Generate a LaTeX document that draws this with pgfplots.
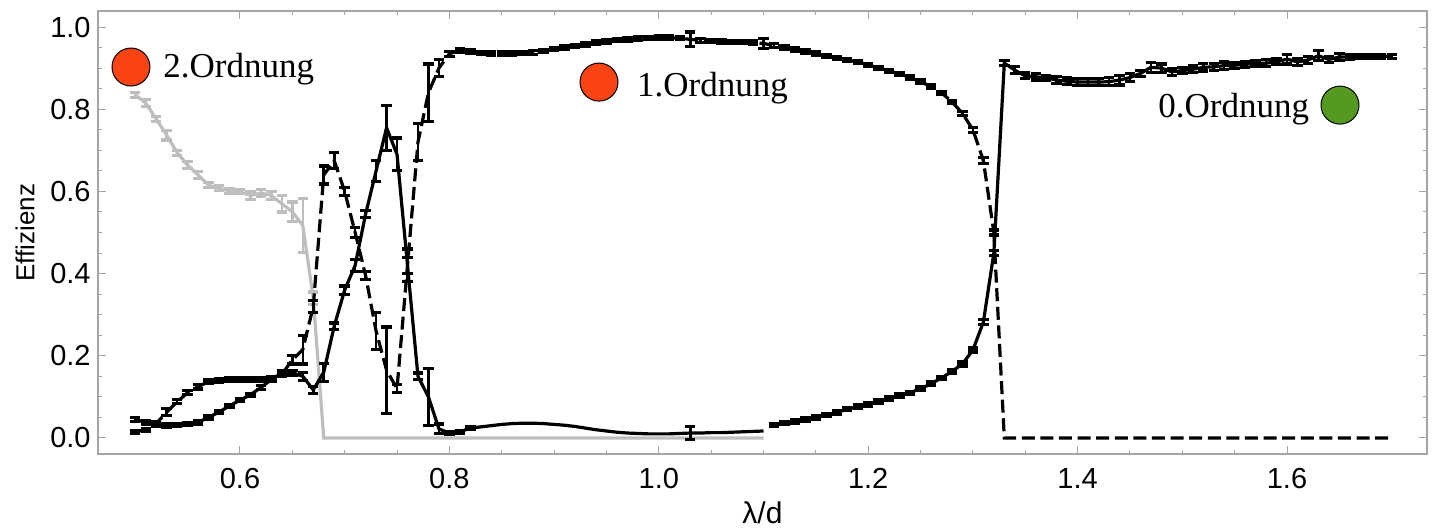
\documentclass[border=0pt]{standalone}
\usepackage{fontspec}
\setmainfont{Liberation Sans}
\newfontfamily\annfont{Liberation Serif}
\usepackage{pgfplots}
\pgfplotsset{compat=1.18}
\usepackage{pgfplotstable}

\definecolor{ordred}{RGB}{250,68,20}
\definecolor{ordgreen}{RGB}{84,154,32}
\definecolor{grayline}{RGB}{190,190,190}
\definecolor{framegray}{RGB}{165,165,165}

% 2. Ordnung (grau)
\pgfplotstableread{
x y e
0.50 0.835 0.006
0.51 0.815 0.008
0.52 0.776 0.006
0.53 0.737 0.012
0.54 0.694 0.006
0.55 0.664 0.008
0.56 0.640 0.008
0.57 0.615 0.006
0.58 0.608 0.006
0.59 0.601 0.006
0.60 0.599 0.005
0.61 0.590 0.010
0.62 0.596 0.008
0.63 0.590 0.010
0.64 0.570 0.020
0.65 0.550 0.024
0.66 0.517 0.066
0.67 0.340 0.015
}\grayA

% 1. Ordnung (gestrichelt)
\pgfplotstableread{
x y e
0.50 0.015 0.004
0.51 0.020 0.004
0.52 0.035 0.005
0.53 0.063 0.008
0.54 0.088 0.005
0.55 0.110 0.005
0.56 0.125 0.006
0.57 0.137 0.004
0.58 0.140 0.004
0.59 0.142 0.004
0.60 0.142 0.004
0.61 0.142 0.004
0.62 0.142 0.004
0.63 0.145 0.004
0.64 0.155 0.005
0.65 0.190 0.010
0.66 0.215 0.035
0.67 0.320 0.015
0.68 0.640 0.022
0.69 0.675 0.020
0.70 0.600 0.010
0.71 0.500 0.012
0.72 0.395 0.010
0.73 0.260 0.045
0.74 0.165 0.105
0.75 0.120 0.010
0.76 0.420 0.020
0.77 0.720 0.045
0.78 0.840 0.070
0.79 0.900 0.020
0.80 0.935 0.006
0.81 0.943 0.004
0.82 0.940 0.004
0.83 0.937 0.004
0.84 0.935 0.004
0.85 0.935 0.004
0.86 0.935 0.004
0.87 0.937 0.004
0.88 0.938 0.004
0.89 0.942 0.004
0.90 0.946 0.004
0.91 0.950 0.004
0.92 0.954 0.004
0.93 0.958 0.004
0.94 0.962 0.004
0.95 0.965 0.004
0.96 0.968 0.004
0.97 0.970 0.004
0.98 0.972 0.004
0.99 0.973 0.004
1.00 0.974 0.004
1.01 0.974 0.004
1.02 0.973 0.004
1.03 0.970 0.018
1.04 0.968 0.005
1.05 0.966 0.004
1.06 0.965 0.004
1.07 0.964 0.004
1.08 0.963 0.004
1.09 0.962 0.004
1.10 0.960 0.012
1.11 0.955 0.004
1.12 0.950 0.004
1.13 0.945 0.004
1.14 0.940 0.004
1.15 0.935 0.004
1.16 0.930 0.004
1.17 0.925 0.004
1.18 0.920 0.004
1.19 0.915 0.004
1.20 0.908 0.004
1.21 0.900 0.004
1.22 0.893 0.004
1.23 0.886 0.004
1.24 0.877 0.004
1.25 0.867 0.004
1.26 0.855 0.004
1.27 0.840 0.004
1.28 0.818 0.004
1.29 0.790 0.005
1.30 0.750 0.006
1.31 0.675 0.008
1.32 0.500 0.006
}\dashA

% 0. Ordnung (durchgezogen)
\pgfplotstableread{
x y e
0.50 0.045 0.005
0.51 0.038 0.004
0.52 0.032 0.004
0.53 0.031 0.005
0.54 0.032 0.004
0.55 0.034 0.004
0.56 0.038 0.004
0.57 0.050 0.004
0.58 0.063 0.004
0.59 0.078 0.004
0.60 0.092 0.004
0.61 0.105 0.004
0.62 0.123 0.005
0.63 0.142 0.005
0.64 0.158 0.006
0.65 0.159 0.006
0.66 0.150 0.010
0.67 0.117 0.008
0.68 0.160 0.022
0.69 0.272 0.008
0.70 0.360 0.010
0.71 0.420 0.015
0.72 0.545 0.008
0.73 0.650 0.025
0.74 0.755 0.055
0.75 0.690 0.040
0.76 0.420 0.040
0.77 0.150 0.008
0.78 0.100 0.070
0.79 0.022 0.012
0.80 0.012 0.004
0.81 0.015 0.004
0.82 0.024 0.004
}\solA

\pgfplotstableread{
x y
0.82 0.024
0.83 0.027
0.84 0.030
0.85 0.033
0.86 0.035
0.87 0.036
0.88 0.036
0.89 0.035
0.90 0.033
0.91 0.031
0.92 0.028
0.93 0.024
0.94 0.020
0.95 0.017
0.96 0.014
0.97 0.012
0.98 0.011
0.99 0.010
1.00 0.010
1.01 0.010
1.02 0.011
1.03 0.012
1.04 0.012
1.05 0.013
1.06 0.013
1.07 0.014
1.08 0.015
1.09 0.016
1.10 0.017
}\solB

\pgfplotstableread{
x y e
1.11 0.032 0.004
1.12 0.036 0.004
1.13 0.040 0.004
1.14 0.045 0.004
1.15 0.050 0.004
1.16 0.056 0.004
1.17 0.062 0.004
1.18 0.070 0.004
1.19 0.076 0.004
1.20 0.082 0.004
1.21 0.089 0.004
1.22 0.096 0.004
1.23 0.103 0.004
1.24 0.110 0.004
1.25 0.120 0.004
1.26 0.132 0.004
1.27 0.146 0.004
1.28 0.162 0.004
1.29 0.180 0.005
1.30 0.214 0.005
1.31 0.282 0.006
1.32 0.450 0.006
1.33 0.912 0.006
1.34 0.895 0.008
1.35 0.881 0.007
1.36 0.879 0.008
1.37 0.876 0.007
1.38 0.871 0.008
1.39 0.868 0.008
1.40 0.866 0.008
1.41 0.866 0.008
1.42 0.866 0.008
1.43 0.867 0.010
1.44 0.871 0.012
1.45 0.877 0.010
1.46 0.887 0.008
1.47 0.902 0.012
1.48 0.900 0.010
1.49 0.891 0.008
1.50 0.894 0.008
1.51 0.897 0.008
1.52 0.902 0.009
1.53 0.903 0.008
1.54 0.906 0.009
1.55 0.907 0.007
1.56 0.909 0.008
1.57 0.912 0.007
1.58 0.912 0.008
1.59 0.915 0.007
1.60 0.922 0.012
1.61 0.915 0.008
1.62 0.920 0.008
1.63 0.930 0.012
1.64 0.921 0.008
1.65 0.927 0.009
1.66 0.927 0.006
1.67 0.928 0.005
1.68 0.929 0.005
1.69 0.929 0.005
1.70 0.929 0.005
}\solC

\pgfplotsset{
  eb/.style={error bars/.cd, y dir=both, y explicit,
    error bar style={solid, line width=1.3pt},
    error mark options={solid, rotate=90, mark size=2.6pt, line width=1.6pt}},
}

\begin{document}
\begin{tikzpicture}
\begin{axis}[
  scale only axis,
  width=664.5pt, height=221.5pt,
  xmin=0.4644, xmax=1.7337,
  ymin=-0.039, ymax=1.039,
  xtick={0.6,0.8,1.0,1.2,1.4,1.6},
  ytick={0,0.2,0.4,0.6,0.8,1.0},
  minor x tick num=3, minor y tick num=3,
  major tick length=4pt, minor tick length=2pt,
  tick style={framegray, line width=0.5pt},
  axis line style={framegray, line width=0.6pt},
  tick label style={font=\fontsize{14.5}{17}\selectfont, inner sep=0pt},
  xticklabel style={yshift=-7pt},
  yticklabel style={xshift=-3.5pt},
  /pgf/number format/.cd, fixed, fixed zerofill, precision=1, assume math mode=true,
  /pgfplots/.cd,
  xlabel={λ/d}, ylabel={Effizienz},
  every axis x label/.style={at={(axis description cs:0.5,-0.1332)}, anchor=center,
    font=\fontsize{15}{17}\selectfont},
  every axis y label/.style={at={(axis description cs:-0.0549,0.5)}, rotate=90, anchor=center,
    font=\fontsize{13}{15}\selectfont},
]
% 2. Ordnung
\addplot[grayline, line width=1.6pt, no markers, eb] table[x=x, y=y, y error=e] {\grayA};
\addplot[grayline, line width=1.6pt, no markers] coordinates {(0.67,0.34) (0.68,0) (1.10,0)};
% 1. Ordnung
\addplot[black, line width=1.6pt, dash pattern=on 6.5pt off 2.8pt, no markers, eb] table[x=x, y=y, y error=e] {\dashA};
\addplot[black, line width=1.6pt, dash pattern=on 6.5pt off 2.8pt, no markers] coordinates {(1.32,0.5) (1.33,0) (1.70,0)};
% 0. Ordnung
\addplot[black, line width=1.6pt, no markers, eb] table[x=x, y=y, y error=e] {\solA};
\addplot[black, line width=1.6pt, no markers] table[x=x, y=y] {\solB};
\addplot[black, line width=1.6pt, no markers, eb] coordinates {(1.03,0.012) +- (0,0.016)};
\addplot[black, line width=1.6pt, no markers, eb] table[x=x, y=y, y error=e] {\solC};

% Beschriftungen
\node[circle, draw=black, line width=0.5pt, fill=ordred, minimum size=19pt, inner sep=0pt] at (axis cs:0.4959,0.9027) {};
\node[anchor=base west, inner sep=0pt, font=\annfont\fontsize{17.5}{20}\selectfont] at (axis cs:0.5265,0.878) {2.Ordnung};
\node[circle, draw=black, line width=0.5pt, fill=ordred, minimum size=19pt, inner sep=0pt] at (axis cs:0.9429,0.866) {};
\node[anchor=base west, inner sep=0pt, font=\annfont\fontsize{17.5}{20}\selectfont] at (axis cs:0.979,0.830) {1.Ordnung};
\node[circle, draw=black, line width=0.5pt, fill=ordgreen, minimum size=19pt, inner sep=0pt] at (axis cs:1.6506,0.810) {};
\node[anchor=base west, inner sep=0pt, font=\annfont\fontsize{17.5}{20}\selectfont] at (axis cs:1.4768,0.781) {0.Ordnung};
\end{axis}
\pgfresetboundingbox
\path[use as bounding box] ([shift={(-49pt,-38pt)}]current axis.south west) rectangle ([shift={(4.5pt,5.5pt)}]current axis.north east);
\end{tikzpicture}
\end{document}
